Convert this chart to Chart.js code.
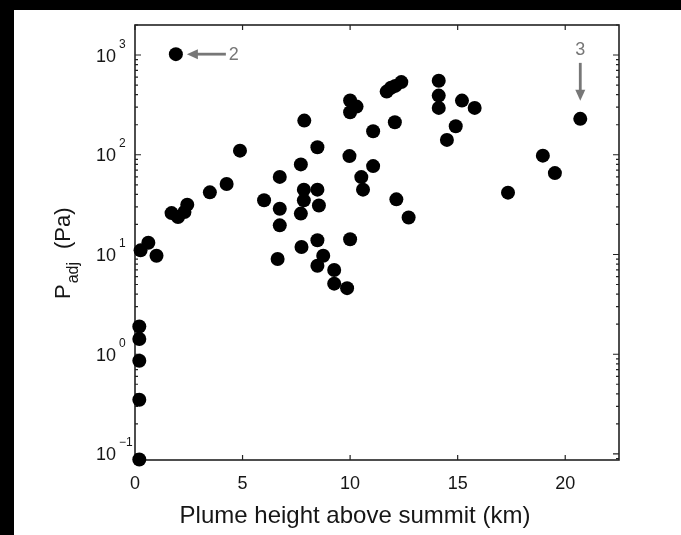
<!DOCTYPE html>
<html>
<head>
<meta charset="utf-8">
<script src="https://cdn.jsdelivr.net/npm/chart.js@4/dist/chart.umd.min.js"></script>
<style>
  html, body { margin: 0; padding: 0; background: #000; }
  canvas { display: block; }
</style>
</head>
<body>
<canvas id="c" width="681" height="535"></canvas>
<script>
// Plume height above summit (km) and adjusted pressure (Pa) for each eruption
const plumeHeightKm = [
  0.2, 0.2, 0.2, 0.2, 0.2, 0.26, 0.62, 1.0, 1.7, 2.0, 2.3, 2.43, 3.48, 4.26, 4.88, 1.9,
  6.0, 6.63, 6.73, 6.73, 6.73, 7.71, 7.87, 7.85, 7.85, 7.71, 7.74,
  8.48, 8.48, 8.55, 8.48, 8.75, 8.48, 9.26, 9.26, 9.86,
  10.0, 10.3, 10.0, 9.97, 10.0, 10.52, 10.6, 11.07, 11.07,
  11.7, 11.9, 12.1, 12.38, 12.08, 12.15, 12.72,
  14.12, 14.12, 14.12, 15.2, 15.79, 14.91, 14.5,
  17.34, 18.96, 19.52, 20.7
];
const pressureAdjPa = [
  0.088, 0.35, 0.86, 1.42, 1.9, 11, 13.1, 9.7, 26, 23.8, 26.7, 31.6, 42, 51, 110, 1020,
  35, 9.0, 60, 28.8, 19.6, 80, 220, 44.7, 34.9, 25.7, 11.9,
  119, 44.7, 31, 13.9, 9.7, 7.7, 7.0, 5.1, 4.6,
  350, 304, 267, 97, 14.2, 59.7, 44.7, 172, 77,
  430, 470, 490, 535, 212, 35.7, 23.5,
  553, 392, 295, 349, 295, 193, 141,
  41.7, 98, 65.5, 229
];

// Axis ticks
const xTickValues = [0, 5, 10, 15, 20];
const yDecadeExponents = [-1, 0, 1, 2, 3];

// Numbered call-outs
const calloutLabels = ['2', '3'];
const calloutX = [1.9, 20.7];
const calloutY = [1020, 229];

const xAxisTitle = 'Plume height above summit (km)';

const FONT = '"Liberation Sans", Arial, Helvetica, sans-serif';
const INK = '#161616';
const CALLOUT = '#777777';

function superscriptText(n) {
  return n < 0 ? '\u2212' + Math.abs(n) : String(n);
}

const figurePlugin = {
  id: 'figure',
  beforeDraw(chart) {
    const ctx = chart.ctx;
    ctx.save();
    ctx.fillStyle = '#000';
    ctx.fillRect(0, 0, chart.width, chart.height);
    ctx.fillStyle = '#fff';
    ctx.fillRect(14, 10, chart.width - 14, chart.height - 10);
    ctx.restore();
  },
  beforeDatasetsDraw(chart) {
    const ctx = chart.ctx;
    const a = chart.chartArea;
    const xs = chart.scales.x, ys = chart.scales.y;
    ctx.save();
    ctx.strokeStyle = '#222';
    ctx.lineWidth = 1.6;
    ctx.strokeRect(a.left, a.top, a.right - a.left, a.bottom - a.top);

    ctx.lineWidth = 1.2;
    ctx.beginPath();
    // x ticks, inward on bottom and top
    xTickValues.forEach(v => {
      const px = xs.getPixelForValue(v);
      ctx.moveTo(px, a.bottom); ctx.lineTo(px, a.bottom - 5);
      ctx.moveTo(px, a.top); ctx.lineTo(px, a.top + 5);
    });
    // y major and minor ticks, inward on left and right
    for (let k = -2; k <= 3; k++) {
      for (let m = 1; m <= 9; m++) {
        const v = m * Math.pow(10, k);
        if (v < ys.min || v > ys.max) continue;
        const py = ys.getPixelForValue(v);
        const len = m === 1 ? 6 : 3;
        ctx.moveTo(a.left, py); ctx.lineTo(a.left + len, py);
        ctx.moveTo(a.right, py); ctx.lineTo(a.right - len, py);
      }
    }
    ctx.stroke();
    ctx.restore();
  },
  afterDatasetsDraw(chart) {
    const ctx = chart.ctx;
    const a = chart.chartArea;
    const xs = chart.scales.x, ys = chart.scales.y;
    ctx.save();
    ctx.fillStyle = INK;

    // x tick labels
    ctx.font = '18px ' + FONT;
    ctx.textAlign = 'center';
    ctx.textBaseline = 'alphabetic';
    xTickValues.forEach(v => {
      ctx.fillText(String(v), xs.getPixelForValue(v), a.bottom + 29);
    });

    // y tick labels as powers of ten
    yDecadeExponents.forEach(e => {
      const py = ys.getPixelForValue(Math.pow(10, e));
      ctx.font = '18px ' + FONT;
      ctx.textAlign = 'right';
      ctx.fillText('10', a.left - 19, py + 6.5);
      ctx.font = '12px ' + FONT;
      ctx.textAlign = 'left';
      ctx.fillText(superscriptText(e), a.left - 16, py - 7.5);
    });

    // x axis title
    ctx.font = '24px ' + FONT;
    ctx.textAlign = 'center';
    ctx.fillText(xAxisTitle, 355, a.bottom + 63);

    // y axis title: P_adj (Pa), rotated
    ctx.save();
    ctx.translate(70, 299);
    ctx.rotate(-Math.PI / 2);
    ctx.textAlign = 'left';
    ctx.font = '22px ' + FONT;
    ctx.fillText('P', 0, 0);
    const pw = ctx.measureText('P').width;
    ctx.font = '16px ' + FONT;
    ctx.fillText('adj', pw + 1, 8);
    const aw = ctx.measureText('adj').width;
    ctx.font = '22px ' + FONT;
    ctx.fillText('(Pa)', pw + aw + 14, 0);
    ctx.restore();

    // call-outs
    ctx.strokeStyle = CALLOUT;
    ctx.fillStyle = CALLOUT;
    ctx.lineWidth = 2.8;
    ctx.font = '18px ' + FONT;
    calloutLabels.forEach((lab, i) => {
      const px = xs.getPixelForValue(calloutX[i]);
      const py = ys.getPixelForValue(calloutY[i]);
      if (i === 0) {
        // horizontal arrow pointing left at the point
        const x0 = px + 50, x1 = px + 11;
        ctx.beginPath(); ctx.moveTo(x0, py); ctx.lineTo(x1 + 8, py); ctx.stroke();
        ctx.beginPath();
        ctx.moveTo(x1, py); ctx.lineTo(x1 + 11, py - 5); ctx.lineTo(x1 + 11, py + 5);
        ctx.closePath(); ctx.fill();
        ctx.textAlign = 'left';
        ctx.textBaseline = 'middle';
        ctx.fillText(lab, x0 + 3, py + 1);
      } else {
        // vertical arrow pointing down at the point
        const y0 = py - 56, y1 = py - 18;
        ctx.beginPath(); ctx.moveTo(px, y0); ctx.lineTo(px, y1 - 8); ctx.stroke();
        ctx.beginPath();
        ctx.moveTo(px, y1); ctx.lineTo(px - 5, y1 - 11); ctx.lineTo(px + 5, y1 - 11);
        ctx.closePath(); ctx.fill();
        ctx.textAlign = 'center';
        ctx.textBaseline = 'alphabetic';
        ctx.fillText(lab, px, y0 - 8);
      }
    });
    ctx.restore();
  }
};

new Chart(document.getElementById('c').getContext('2d'), {
  type: 'scatter',
  data: {
    datasets: [{
      data: plumeHeightKm.map((x, i) => ({ x: x, y: pressureAdjPa[i] })),
      pointRadius: 7,
      pointHoverRadius: 7,
      pointBackgroundColor: '#000',
      pointBorderColor: '#000',
      pointBorderWidth: 0,
      clip: false
    }]
  },
  options: {
    responsive: false,
    animation: false,
    devicePixelRatio: 1,
    layout: { padding: { left: 135, top: 25, right: 62, bottom: 75 } },
    plugins: { legend: { display: false }, tooltip: { enabled: false } },
    scales: {
      x: { type: 'linear', min: 0, max: 22.5, display: false },
      y: { type: 'logarithmic', min: 0.087, max: 2000, display: false }
    }
  },
  plugins: [figurePlugin]
});
</script>
</body>
</html>
